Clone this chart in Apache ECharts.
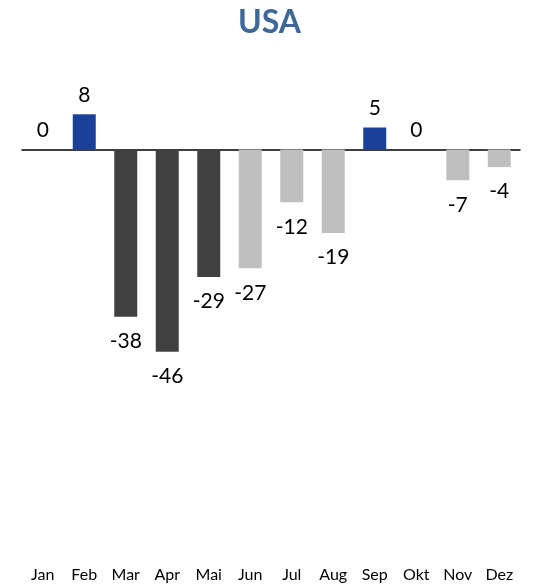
<!DOCTYPE html>
<html>
<head>
<meta charset="utf-8">
<script src="https://cdn.jsdelivr.net/npm/echarts@6/dist/echarts.min.js"></script>
<style>html,body{margin:0;padding:0;background:#fff;}#c{width:539px;height:586px;}</style>
</head>
<body>
<div id="c"></div>
<script>
const titleText = 'USA';
const months = ['Jan','Feb','Mar','Apr','Mai','Jun','Jul','Aug','Sep','Okt','Nov','Dez'];
const values = [0, 8, -38, -46, -29, -27, -12, -19, 5, 0, -7, -4];
const groups = ['up','up','strong','strong','strong','mild','mild','mild','up','up','mild','mild'];

const groupColors = { up: '#1A409A', strong: '#404040', mild: '#BFBFBF' };
const FONT = 'Lato, "Open Sans", sans-serif';

const chart = echarts.init(document.getElementById('c'), null, { renderer: 'canvas' });
chart.setOption({
  animation: false,
  backgroundColor: '#ffffff',
  title: {
    text: titleText, left: 'center', top: 2,
    textStyle: { color: '#3E6898', fontSize: 32, fontWeight: 'bold', fontFamily: FONT }
  },
  grid: { left: 22, right: 19, top: 105.5, bottom: 23, containLabel: false },
  xAxis: [
    {
      type: 'category', data: months, position: 'bottom',
      axisLine: { show: false, onZero: false }, axisTick: { show: false },
      axisLabel: { margin: 4, color: '#000', fontSize: 16, fontFamily: FONT }
    },
    {
      type: 'category', data: months, position: 'top',
      axisLine: { show: true, onZero: true, lineStyle: { color: '#000', width: 1.5 } },
      axisTick: { show: false }, axisLabel: { show: false }
    }
  ],
  yAxis: { type: 'value', min: -94, max: 10, show: false, splitLine: { show: false } },
  series: [{
    type: 'bar', xAxisIndex: 0, barWidth: 23,
    data: values.map((v, i) => ({
      value: v,
      itemStyle: { color: groupColors[groups[i]] },
      label: { position: v >= 0 ? 'top' : 'bottom', distance: v >= 0 ? 9 : 14 }
    })),
    label: { show: true, color: '#000', fontSize: 21, fontFamily: FONT }
  }]
});
</script>
</body>
</html>
